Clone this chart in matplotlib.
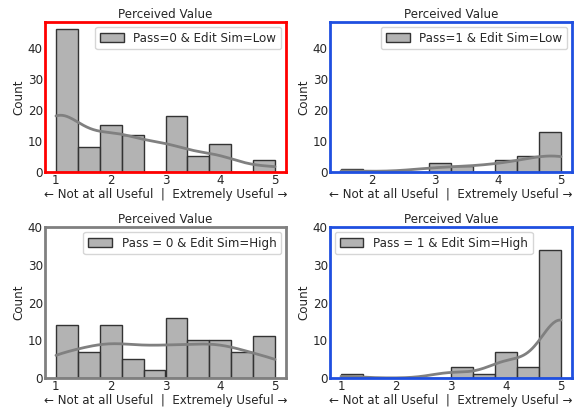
import numpy as np
import matplotlib
matplotlib.use("Agg")
import matplotlib.pyplot as plt
import seaborn as sns

sns.set_style("white")
plt.rcParams['font.family'] = ['DejaVu Sans']

# Panel data: representative values per bin and counts per bin
vals_p0_low = [1.0, 1.67, 2.0, 2.33, 2.67, 3.0, 3.67, 4.0, 4.33, 5.0]
cnts_p0_low = [46, 8, 15, 12, 0, 18, 5, 9, 0, 4]

vals_p1_low = [1.5, 1.75, 2.0, 2.5, 3.0, 3.5, 3.75, 4.0, 4.5, 5.0]
cnts_p1_low = [1, 0, 0, 0, 3, 2, 0, 4, 5, 13]

vals_p0_high = [1.0, 1.67, 2.0, 2.33, 2.67, 3.0, 3.67, 4.0, 4.33, 5.0]
cnts_p0_high = [14, 7, 14, 5, 2, 16, 10, 10, 7, 11]

vals_p1_high = [1.0, 1.67, 2.0, 2.33, 2.67, 3.0, 3.67, 4.0, 4.33, 5.0]
cnts_p1_high = [1, 0, 0, 0, 0, 3, 1, 7, 3, 34]

edges_full = np.linspace(1.0, 5.0, 11)
edges_p1_low = np.linspace(1.5, 5.0, 11)

labels = ["Pass=0 & Edit Sim=Low", "Pass=1 & Edit Sim=Low",
          "Pass = 0 & Edit Sim=High", "Pass = 1 & Edit Sim=High"]
spine_colors = ["#ff0000", "#1f4fe0", "#808080", "#1f4fe0"]
legend_locs = ["upper right", "upper right", "upper right", "upper left"]
ylims = [(0, 48.3), (0, 48.3), (0, 40), (0, 40)]
yticks = [[0, 10, 20, 30, 40]] * 4

panels = [
    (vals_p0_low, cnts_p0_low, edges_full),
    (vals_p1_low, cnts_p1_low, edges_p1_low),
    (vals_p0_high, cnts_p0_high, edges_full),
    (vals_p1_high, cnts_p1_high, edges_full),
]

FS = 8.6
fig = plt.figure(figsize=(5.75, 4.08), dpi=100)
positions = [
    [45/575, 1-172/408, 241/575, 150/408],
    [330/575, 1-172/408, 242/575, 150/408],
    [45/575, 1-378/408, 241/575, 151/408],
    [330/575, 1-378/408, 242/575, 151/408],
]

for i, (vals, cnts, edges) in enumerate(panels):
    ax = fig.add_axes(positions[i])
    data = np.repeat(vals, cnts)
    sns.histplot(x=data, bins=edges, kde=True, ax=ax, color="#a0a0a0",
                 edgecolor="#333333", linewidth=1.0, alpha=0.8,
                 line_kws={"linewidth": 2.0}, label=labels[i])
    for l in ax.lines:
        l.set_color("#808080")
    ax.set_ylim(*ylims[i])
    ax.set_yticks(yticks[i])
    lo, hi = edges[0], edges[-1]
    m = (hi - lo) * 0.05
    ax.set_xlim(lo - m, hi + m)
    ax.set_xticks([t for t in [1, 2, 3, 4, 5] if t >= lo - 1e-9])
    ax.set_title("Perceived Value", fontsize=FS, pad=3)
    ax.set_xlabel("← Not at all Useful  |  Extremely Useful →", fontsize=FS, labelpad=1)
    ax.set_ylabel("Count", fontsize=FS, labelpad=2)
    ax.tick_params(labelsize=FS, length=0, pad=1.5)
    for s in ax.spines.values():
        s.set_color(spine_colors[i])
        s.set_linewidth(2.0)
    ax.legend(handles=[ax.patches[0]], labels=[labels[i]], loc=legend_locs[i],
              fontsize=FS, borderaxespad=0.4)

fig.savefig("out.png", dpi=100)
